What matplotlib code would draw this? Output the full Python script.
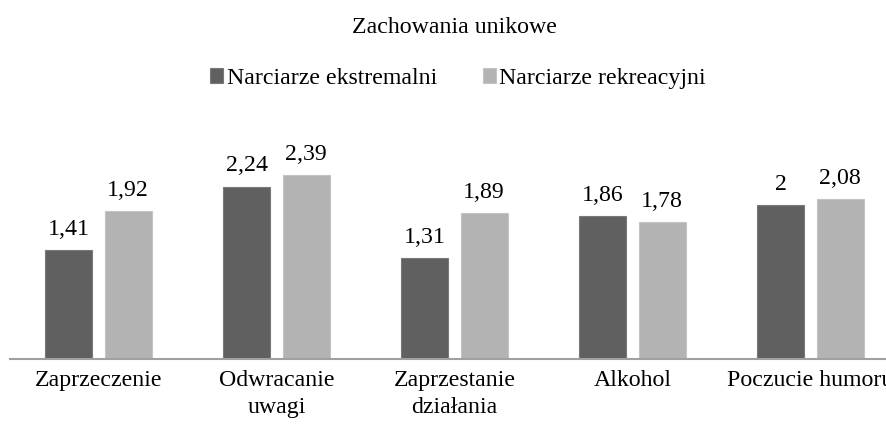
import matplotlib
matplotlib.use("Agg")
import matplotlib.pyplot as plt
import numpy as np

# chart data
categories = ["Zaprzeczenie", "Odwracanie\nuwagi", "Zaprzestanie\ndziałania", "Alkohol", "Poczucie humoru"]
series_names = ["Narciarze ekstremalni", "Narciarze rekreacyjni"]
extreme = [1.41, 2.24, 1.31, 1.86, 2.00]
recreational = [1.92, 2.39, 1.89, 1.78, 2.08]
colors = ["#606060", "#b3b3b3"]
edges = ["#7a7a7a", "#c4c4c4"]

plt.rcParams["font.family"] = ["Liberation Serif", "DejaVu Serif"]
FS = 17.2

W, H = 887, 426
fig = plt.figure(figsize=(W / 100, H / 100), dpi=100)
# axes is wider than the figure on purpose: the reference is cropped on the right
ax = fig.add_axes([9.5 / W, 67 / H, 890 / W, 231 / H])

x = np.arange(len(categories))
bw = 0.266
off = 0.167
for i, vals in enumerate([extreme, recreational]):
    pos = x + (-off if i == 0 else off)
    ax.bar(pos, vals, bw, color=colors[i], edgecolor=edges[i], linewidth=0.8,
           label=series_names[i], zorder=2)
    for p, v in zip(pos, vals):
        txt = ("%.2f" % v).rstrip("0").rstrip(".").replace(".", ",")
        ax.annotate(txt, (p, v), xytext=(0, 11), textcoords="offset points",
                    ha="center", va="baseline", fontsize=FS)

ax.set_xlim(-0.5, len(categories) - 0.5)
ax.set_ylim(0, 3)
ax.set_xticks(x)
ax.set_xticklabels(categories, fontsize=FS, linespacing=1.35)
ax.tick_params(axis="x", length=0, pad=8)
ax.set_yticks([])
for s in ["top", "right", "left"]:
    ax.spines[s].set_visible(False)
ax.spines["bottom"].set_color("#a0a0a0")
ax.spines["bottom"].set_linewidth(1.5)
ax.spines["bottom"].set_zorder(3)

fig.text(454 / W, 1 - 33 / H, "Zachowania unikowe", ha="center", va="baseline", fontsize=FS)

fig.legend(loc="center", bbox_to_anchor=(458 / W, 1 - 78.5 / H), ncol=2, frameon=False,
           fontsize=FS, handlelength=0.55, handleheight=0.55, handletextpad=0.15,
           columnspacing=1.9, borderpad=0, borderaxespad=0)

fig.savefig("out.png", dpi=100)
